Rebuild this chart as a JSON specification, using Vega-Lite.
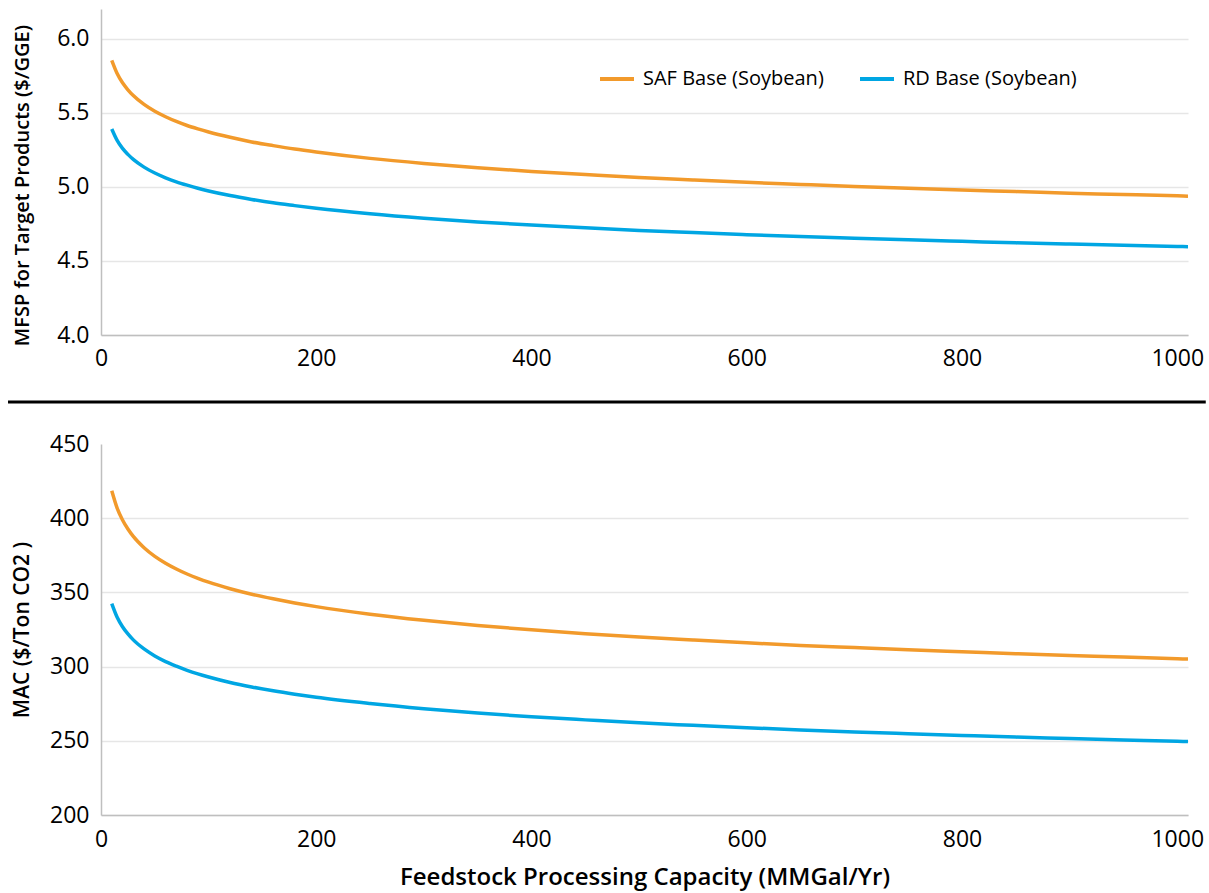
{
  "$schema": "https://vega.github.io/schema/vega-lite/v6.json",
  "padding": {"left": 6, "top": 9, "right": 0, "bottom": 4},
  "background": "white",
  "config": {
    "font": "Open Sans",
    "view": {"stroke": null},
    "axis": {
      "labelFont": "Open Sans", "labelFontSize": 23, "labelColor": "#000000",
      "titleFont": "Open Sans", "titleFontWeight": 600, "titleColor": "#000000",
      "ticks": false, "tickSize": 0, "domainColor": "#BFBFBF", "domainWidth": 1.5,
      "gridColor": "#E6E6E6", "gridWidth": 1.5, "labelFlush": false
    }
  },
  "datasets": {
    "mfsp": [
      {"capacity":10,"series":"SAF Base (Soybean)","value":5.854},{"capacity":15,"series":"SAF Base (Soybean)","value":5.765},{"capacity":20,"series":"SAF Base (Soybean)","value":5.702},{"capacity":25,"series":"SAF Base (Soybean)","value":5.655},{"capacity":30,"series":"SAF Base (Soybean)","value":5.616},{"capacity":40,"series":"SAF Base (Soybean)","value":5.556},{"capacity":50,"series":"SAF Base (Soybean)","value":5.510},{"capacity":60,"series":"SAF Base (Soybean)","value":5.473},{"capacity":70,"series":"SAF Base (Soybean)","value":5.441},{"capacity":80,"series":"SAF Base (Soybean)","value":5.414},{"capacity":90,"series":"SAF Base (Soybean)","value":5.391},{"capacity":100,"series":"SAF Base (Soybean)","value":5.370},{"capacity":120,"series":"SAF Base (Soybean)","value":5.334},{"capacity":140,"series":"SAF Base (Soybean)","value":5.303},{"capacity":160,"series":"SAF Base (Soybean)","value":5.278},{"capacity":180,"series":"SAF Base (Soybean)","value":5.255},{"capacity":200,"series":"SAF Base (Soybean)","value":5.235},{"capacity":250,"series":"SAF Base (Soybean)","value":5.192},{"capacity":300,"series":"SAF Base (Soybean)","value":5.158},{"capacity":350,"series":"SAF Base (Soybean)","value":5.129},{"capacity":400,"series":"SAF Base (Soybean)","value":5.104},{"capacity":450,"series":"SAF Base (Soybean)","value":5.083},{"capacity":500,"series":"SAF Base (Soybean)","value":5.063},{"capacity":550,"series":"SAF Base (Soybean)","value":5.046},{"capacity":600,"series":"SAF Base (Soybean)","value":5.030},{"capacity":650,"series":"SAF Base (Soybean)","value":5.016},{"capacity":700,"series":"SAF Base (Soybean)","value":5.002},{"capacity":750,"series":"SAF Base (Soybean)","value":4.990},{"capacity":800,"series":"SAF Base (Soybean)","value":4.978},{"capacity":850,"series":"SAF Base (Soybean)","value":4.968},{"capacity":900,"series":"SAF Base (Soybean)","value":4.957},{"capacity":950,"series":"SAF Base (Soybean)","value":4.948},{"capacity":1000,"series":"SAF Base (Soybean)","value":4.939},{"capacity":1010,"series":"SAF Base (Soybean)","value":4.937},
      {"capacity":10,"series":"RD Base (Soybean)","value":5.390},{"capacity":15,"series":"RD Base (Soybean)","value":5.313},{"capacity":20,"series":"RD Base (Soybean)","value":5.259},{"capacity":25,"series":"RD Base (Soybean)","value":5.219},{"capacity":30,"series":"RD Base (Soybean)","value":5.185},{"capacity":40,"series":"RD Base (Soybean)","value":5.133},{"capacity":50,"series":"RD Base (Soybean)","value":5.093},{"capacity":60,"series":"RD Base (Soybean)","value":5.061},{"capacity":70,"series":"RD Base (Soybean)","value":5.034},{"capacity":80,"series":"RD Base (Soybean)","value":5.011},{"capacity":90,"series":"RD Base (Soybean)","value":4.990},{"capacity":100,"series":"RD Base (Soybean)","value":4.972},{"capacity":120,"series":"RD Base (Soybean)","value":4.941},{"capacity":140,"series":"RD Base (Soybean)","value":4.915},{"capacity":160,"series":"RD Base (Soybean)","value":4.892},{"capacity":180,"series":"RD Base (Soybean)","value":4.873},{"capacity":200,"series":"RD Base (Soybean)","value":4.855},{"capacity":250,"series":"RD Base (Soybean)","value":4.818},{"capacity":300,"series":"RD Base (Soybean)","value":4.788},{"capacity":350,"series":"RD Base (Soybean)","value":4.763},{"capacity":400,"series":"RD Base (Soybean)","value":4.742},{"capacity":450,"series":"RD Base (Soybean)","value":4.723},{"capacity":500,"series":"RD Base (Soybean)","value":4.706},{"capacity":550,"series":"RD Base (Soybean)","value":4.691},{"capacity":600,"series":"RD Base (Soybean)","value":4.677},{"capacity":650,"series":"RD Base (Soybean)","value":4.664},{"capacity":700,"series":"RD Base (Soybean)","value":4.653},{"capacity":750,"series":"RD Base (Soybean)","value":4.642},{"capacity":800,"series":"RD Base (Soybean)","value":4.632},{"capacity":850,"series":"RD Base (Soybean)","value":4.622},{"capacity":900,"series":"RD Base (Soybean)","value":4.614},{"capacity":950,"series":"RD Base (Soybean)","value":4.606},{"capacity":1000,"series":"RD Base (Soybean)","value":4.597},{"capacity":1010,"series":"RD Base (Soybean)","value":4.596}
    ],
    "mac": [
      {"capacity":10,"series":"SAF Base (Soybean)","value":418.5},{"capacity":15,"series":"SAF Base (Soybean)","value":406.8},{"capacity":20,"series":"SAF Base (Soybean)","value":398.8},{"capacity":25,"series":"SAF Base (Soybean)","value":392.7},{"capacity":30,"series":"SAF Base (Soybean)","value":387.7},{"capacity":40,"series":"SAF Base (Soybean)","value":380.1},{"capacity":50,"series":"SAF Base (Soybean)","value":374.3},{"capacity":60,"series":"SAF Base (Soybean)","value":369.7},{"capacity":70,"series":"SAF Base (Soybean)","value":365.8},{"capacity":80,"series":"SAF Base (Soybean)","value":362.4},{"capacity":90,"series":"SAF Base (Soybean)","value":359.5},{"capacity":100,"series":"SAF Base (Soybean)","value":356.9},{"capacity":120,"series":"SAF Base (Soybean)","value":352.5},{"capacity":140,"series":"SAF Base (Soybean)","value":348.8},{"capacity":160,"series":"SAF Base (Soybean)","value":345.7},{"capacity":180,"series":"SAF Base (Soybean)","value":342.9},{"capacity":200,"series":"SAF Base (Soybean)","value":340.4},{"capacity":250,"series":"SAF Base (Soybean)","value":335.3},{"capacity":300,"series":"SAF Base (Soybean)","value":331.2},{"capacity":350,"series":"SAF Base (Soybean)","value":327.7},{"capacity":400,"series":"SAF Base (Soybean)","value":324.8},{"capacity":450,"series":"SAF Base (Soybean)","value":322.2},{"capacity":500,"series":"SAF Base (Soybean)","value":319.9},{"capacity":550,"series":"SAF Base (Soybean)","value":317.9},{"capacity":600,"series":"SAF Base (Soybean)","value":316.0},{"capacity":650,"series":"SAF Base (Soybean)","value":314.3},{"capacity":700,"series":"SAF Base (Soybean)","value":312.8},{"capacity":750,"series":"SAF Base (Soybean)","value":311.3},{"capacity":800,"series":"SAF Base (Soybean)","value":310.0},{"capacity":850,"series":"SAF Base (Soybean)","value":308.7},{"capacity":900,"series":"SAF Base (Soybean)","value":307.5},{"capacity":950,"series":"SAF Base (Soybean)","value":306.4},{"capacity":1000,"series":"SAF Base (Soybean)","value":305.3},{"capacity":1010,"series":"SAF Base (Soybean)","value":305.1},
      {"capacity":10,"series":"RD Base (Soybean)","value":342.5},{"capacity":15,"series":"RD Base (Soybean)","value":333.3},{"capacity":20,"series":"RD Base (Soybean)","value":326.9},{"capacity":25,"series":"RD Base (Soybean)","value":322.0},{"capacity":30,"series":"RD Base (Soybean)","value":318.0},{"capacity":40,"series":"RD Base (Soybean)","value":311.9},{"capacity":50,"series":"RD Base (Soybean)","value":307.2},{"capacity":60,"series":"RD Base (Soybean)","value":303.4},{"capacity":70,"series":"RD Base (Soybean)","value":300.3},{"capacity":80,"series":"RD Base (Soybean)","value":297.5},{"capacity":90,"series":"RD Base (Soybean)","value":295.1},{"capacity":100,"series":"RD Base (Soybean)","value":293.0},{"capacity":120,"series":"RD Base (Soybean)","value":289.3},{"capacity":140,"series":"RD Base (Soybean)","value":286.3},{"capacity":160,"series":"RD Base (Soybean)","value":283.7},{"capacity":180,"series":"RD Base (Soybean)","value":281.4},{"capacity":200,"series":"RD Base (Soybean)","value":279.3},{"capacity":250,"series":"RD Base (Soybean)","value":275.1},{"capacity":300,"series":"RD Base (Soybean)","value":271.6},{"capacity":350,"series":"RD Base (Soybean)","value":268.7},{"capacity":400,"series":"RD Base (Soybean)","value":266.2},{"capacity":450,"series":"RD Base (Soybean)","value":264.1},{"capacity":500,"series":"RD Base (Soybean)","value":262.1},{"capacity":550,"series":"RD Base (Soybean)","value":260.4},{"capacity":600,"series":"RD Base (Soybean)","value":258.8},{"capacity":650,"series":"RD Base (Soybean)","value":257.3},{"capacity":700,"series":"RD Base (Soybean)","value":256.0},{"capacity":750,"series":"RD Base (Soybean)","value":254.8},{"capacity":800,"series":"RD Base (Soybean)","value":253.6},{"capacity":850,"series":"RD Base (Soybean)","value":252.5},{"capacity":900,"series":"RD Base (Soybean)","value":251.6},{"capacity":950,"series":"RD Base (Soybean)","value":250.6},{"capacity":1000,"series":"RD Base (Soybean)","value":249.7},{"capacity":1010,"series":"RD Base (Soybean)","value":249.5}
    ],
    "divider": [{"x0": -86.4, "x1": 1026.5, "y": 3.548}]
  },
  "bounds": "flush",
  "spacing": 109,
  "vconcat": [
    {
      "width": 1087,
      "height": 326,
      "layer": [
        {
          "data": {"name": "mfsp"},
          "mark": {"type": "line", "strokeWidth": 3.5, "interpolate": "monotone"},
          "encoding": {
            "x": {"field": "capacity", "type": "quantitative", "scale": {"domain": [0, 1010], "nice": false},
                  "axis": {"values": [0, 200, 400, 600, 800, 1000], "format": "d", "title": null, "grid": false, "labelPadding": 12}},
            "y": {"field": "value", "type": "quantitative", "scale": {"domain": [4, 6.2], "nice": false, "zero": false},
                  "axis": {"values": [4, 4.5, 5, 5.5, 6], "format": ".1f", "title": "MFSP for Target Products ($/GGE)",
                           "titleFontSize": 20, "titleX": -69, "titleY": 176, "labelPadding": 12}},
            "color": {"field": "series", "type": "nominal",
                      "scale": {"domain": ["SAF Base (Soybean)", "RD Base (Soybean)"], "range": ["#F29A2B", "#00A6E3"]},
                      "legend": {"orient": "none", "legendX": 497, "legendY": 51, "direction": "horizontal", "title": null,
                                 "symbolType": "stroke", "symbolStrokeWidth": 4, "symbolSize": 1156,
                                 "labelFont": "Open Sans", "labelFontSize": 20, "labelColor": "#000000", "labelLimit": 400,
                                 "labelOffset": 7, "columnPadding": 28, "padding": 0}}
          }
        },
        {
          "data": {"name": "divider"},
          "mark": {"type": "rule", "color": "#000000", "strokeWidth": 3, "clip": false},
          "encoding": {
            "x": {"field": "x0", "type": "quantitative"},
            "x2": {"field": "x1"},
            "y": {"field": "y", "type": "quantitative"}
          }
        }
      ]
    },
    {
      "width": 1087,
      "height": 371,
      "data": {"name": "mac"},
      "mark": {"type": "line", "strokeWidth": 3.5, "interpolate": "monotone"},
      "encoding": {
        "x": {"field": "capacity", "type": "quantitative", "scale": {"domain": [0, 1010], "nice": false},
              "axis": {"values": [0, 200, 400, 600, 800, 1000], "format": "d", "title": "Feedstock Processing Capacity (MMGal/Yr)",
                       "titleFontSize": 24, "titlePadding": 14, "grid": false, "labelPadding": 13}},
        "y": {"field": "value", "type": "quantitative", "scale": {"domain": [200, 450], "nice": false, "zero": false},
              "axis": {"values": [200, 250, 300, 350, 400, 450], "title": "MAC ($/Ton CO2 )",
                       "titleFontSize": 21, "titleX": -69, "labelPadding": 12,
                       "gridColor": {"condition": {"test": "datum.value === 450", "value": "transparent"}, "value": "#E6E6E6"}}},
        "color": {"field": "series", "type": "nominal",
                  "scale": {"domain": ["SAF Base (Soybean)", "RD Base (Soybean)"], "range": ["#F29A2B", "#00A6E3"]},
                  "legend": null}
      }
    }
  ]
}
